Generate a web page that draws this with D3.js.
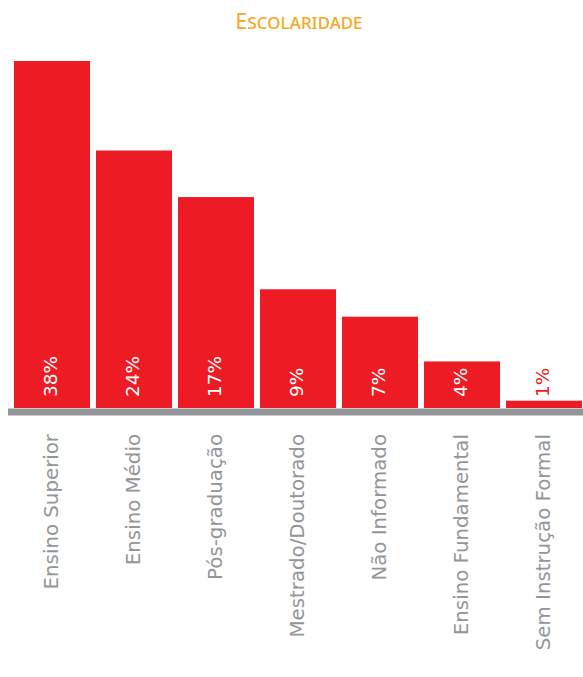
<!DOCTYPE html>
<html>
<head>
<meta charset="utf-8">
<script src="https://cdn.jsdelivr.net/npm/d3@7"></script>
<style>
  html, body { margin: 0; padding: 0; background: #ffffff; }
  svg { display: block; }
</style>
</head>
<body>
<svg id="chart" width="583" height="677"></svg>
<script>
// Data
const categories = ["Ensino Superior", "Ensino Médio", "Pós-graduação", "Mestrado/Doutorado", "Não Informado", "Ensino Fundamental", "Sem Instrução Formal"];
// Bar heights as drawn in the picture (percent units)
const values = [38, 28.2, 23.1, 13.0, 10.0, 5.1, 0.8];
// Printed labels on the bars
const valueLabels = ["38%", "24%", "17%", "9%", "7%", "4%", "1%"];
const title = "Escolaridade";

const svg = d3.select("#chart");
const W = 583, H = 677;
const baseY = 408;

const x = d3.scaleBand()
  .domain(categories)
  .range([11, 585])
  .paddingInner(0.0732)
  .paddingOuter(0.0366);

const y = d3.scaleLinear()
  .domain([0, 38])
  .range([baseY, 61]);

// Title
svg.append("text")
  .attr("x", 299)
  .attr("y", 29)
  .attr("text-anchor", "middle")
  .style("font-family", "'Noto Sans', 'Open Sans', sans-serif")
  .style("font-variant", "small-caps")
  .style("font-size", "21px")
  .style("fill", "#F7A823")
  .text(title);

// Bars
svg.selectAll("rect.bar")
  .data(categories)
  .join("rect")
  .attr("class", "bar")
  .attr("x", d => x(d))
  .attr("width", x.bandwidth())
  .attr("y", (d, i) => y(values[i]))
  .attr("height", (d, i) => baseY - y(values[i]))
  .attr("fill", "#ED1C24");

// Baseline
svg.append("rect")
  .attr("x", 8)
  .attr("y", baseY + 0.5)
  .attr("width", W - 8)
  .attr("height", 7)
  .attr("fill", "#939598");

// Value labels (rotated)
svg.selectAll("text.val")
  .data(categories)
  .join("text")
  .attr("class", "val")
  .attr("transform", (d, i) => `translate(${x(d) + x.bandwidth() / 2 + 5},397) rotate(-90)`)
  .attr("text-anchor", "start")
  .style("font-family", "'DejaVu Sans', sans-serif")
  .style("font-size", "18.5px")
  .style("fill", (d, i) => (baseY - y(values[i]) > 45 ? "#ffffff" : "#ED1C24"))
  .text((d, i) => valueLabels[i]);

// Category labels (rotated)
svg.selectAll("text.cat")
  .data(categories)
  .join("text")
  .attr("class", "cat")
  .attr("transform", d => `translate(${x(d) + x.bandwidth() / 2 + 6},434) rotate(-90)`)
  .attr("text-anchor", "end")
  .style("font-family", "'DejaVu Sans', sans-serif")
  .style("font-size", "19.8px")
  .style("fill", "#939598")
  .text(d => d);
</script>
</body>
</html>
